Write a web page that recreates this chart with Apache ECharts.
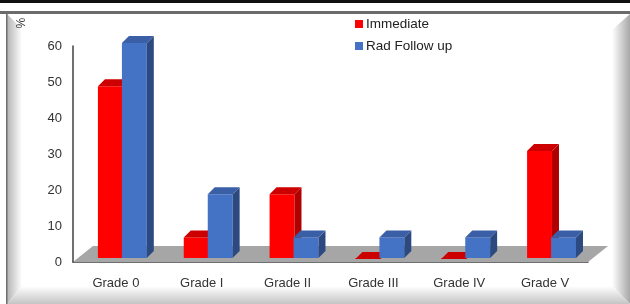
<!DOCTYPE html>
<html>
<head>
<meta charset="utf-8">
<script src="https://cdn.jsdelivr.net/npm/echarts@6/dist/echarts.min.js"></script>
<style>
  html, body { margin: 0; padding: 0; background: #fff; }
  #chart { width: 630px; height: 304px; }
</style>
</head>
<body>
<div id="chart"></div>
<script>
const grades = ['Grade 0', 'Grade I', 'Grade II', 'Grade III', 'Grade IV', 'Grade V'];
const immediate = [48, 6, 18, 0, 0, 30];
const radFollowUp = [60, 18, 6, 6, 6, 6];
const yTicks = { min: 0, max: 60, interval: 10 };

const FONT = '"Liberation Sans", "DejaVu Sans", sans-serif';

// 3D look: depth of each bar and of the floor
const depth = [7, -7];
const floorDepth = [20, -16];

function bar3d(offset, front, side, top) {
    return function (params, api) {
        let c = api.coord([api.value(0), api.value(1)]);
        let b = api.coord([api.value(0), 0]);
        let w = api.size([1, 0])[0] * 0.29;
        let x0 = c[0] + offset;
        let x1 = x0 + w;
        let yt = c[1] - 3;
        let yb = b[1] - 4;
        let dx = depth[0], dy = depth[1];
        return {
            type: 'group',
            children: [
                {type: 'rect', shape: {x: x0, y: yt, width: w, height: yb - yt}, style: {fill: front}},
                {type: 'polygon', shape: {points: [[x1, yt], [x1 + dx, yt + dy], [x1 + dx, yb + dy], [x1, yb]]}, style: {fill: side}},
                {type: 'polygon', shape: {points: [[x0, yt], [x0 + dx, yt + dy], [x1 + dx, yt + dy], [x1, yt]]}, style: {fill: top}}
            ]
        };
    };
}

function floor(params, api) {
    let cs = params.coordSys;
    let y = cs.y + cs.height;
    let l = cs.x, r = cs.x + cs.width;
    return {
        type: 'polygon',
        shape: {points: [[l, y], [l + floorDepth[0], y + floorDepth[1]], [r + floorDepth[0], y + floorDepth[1]], [r, y]]},
        style: {fill: '#a6a6a6'}
    };
}

let myChart = echarts.init(document.getElementById('chart'));
myChart.setOption({
    animation: false,
    backgroundColor: '#fff',
    graphic: [
        {type: 'rect', shape: {x: 0, y: 0, width: 630, height: 3}, style: {fill: '#111'}, z: -10},
        {type: 'rect', shape: {x: 0, y: 11, width: 630, height: 3}, style: {fill: '#6b6b6b'}, z: -10},
        {type: 'polygon', shape: {points: [[7, 14], [22, 29], [22, 286], [7, 304]]},
            style: {fill: new echarts.graphic.LinearGradient(0, 0, 1, 0, [{offset: 0, color: '#b4b4b4'}, {offset: 1, color: '#ffffff'}])}, z: -10},
        {type: 'rect', shape: {x: 6, y: 14, width: 1.5, height: 290}, style: {fill: '#707070'}, z: -9},
        {type: 'polygon', shape: {points: [[630, 14], [612, 30], [612, 286], [630, 304]]},
            style: {fill: new echarts.graphic.LinearGradient(0, 0, 1, 0, [{offset: 0, color: '#ffffff'}, {offset: 1, color: '#a8a8a8'}])}, z: -10},
        {type: 'polygon', shape: {points: [[7, 304], [22, 286], [612, 286], [630, 304]]},
            style: {fill: new echarts.graphic.LinearGradient(0, 0, 0, 1, [{offset: 0, color: '#ffffff'}, {offset: 1, color: '#c4c4c4'}])}, z: -10},
        {type: 'text', x: 19, y: 23, rotation: -Math.PI / 2,
            style: {text: '%', fill: '#333', font: '12px ' + FONT, align: 'center', verticalAlign: 'middle'}}
    ],
    legend: {
        orient: 'vertical',
        left: 350,
        top: 12,
        itemWidth: 8,
        itemHeight: 8,
        itemGap: 8,
        icon: 'rect',
        textStyle: {fontFamily: FONT, fontSize: 13.5, color: '#222', padding: [0, 0, 0, -2]},
        data: ['Immediate', 'Rad Follow up']
    },
    grid: {left: 73, right: 42, top: 46, bottom: 42},
    xAxis: {
        type: 'category',
        data: grades,
        axisLine: {lineStyle: {color: '#404040', width: 1.5}},
        axisTick: {show: false},
        axisLabel: {margin: 15, color: '#333', fontSize: 13, fontFamily: FONT}
    },
    yAxis: {
        type: 'value',
        min: yTicks.min,
        max: yTicks.max,
        interval: yTicks.interval,
        axisLine: {show: true, lineStyle: {color: '#404040', width: 1.5}},
        axisTick: {show: false},
        splitLine: {show: false},
        axisLabel: {margin: 11, color: '#333', fontSize: 13, fontFamily: FONT}
    },
    series: [
        {
            name: 'floor',
            type: 'custom',
            silent: true,
            z: 1,
            data: [[0, 0]],
            renderItem: floor
        },
        {
            name: 'Immediate',
            type: 'custom',
            z: 2,
            itemStyle: {color: '#ff0000'},
            data: immediate.map((v, i) => [i, v]),
            encode: {x: 0, y: 1},
            renderItem: bar3d(-18, '#ff0000', '#b00000', '#cc0000')
        },
        {
            name: 'Rad Follow up',
            type: 'custom',
            z: 3,
            itemStyle: {color: '#4472c4'},
            data: radFollowUp.map((v, i) => [i, v]),
            encode: {x: 0, y: 1},
            renderItem: bar3d(6, '#4472c4', '#2c4a80', '#3a5fa6')
        }
    ]
});
</script>
</body>
</html>
